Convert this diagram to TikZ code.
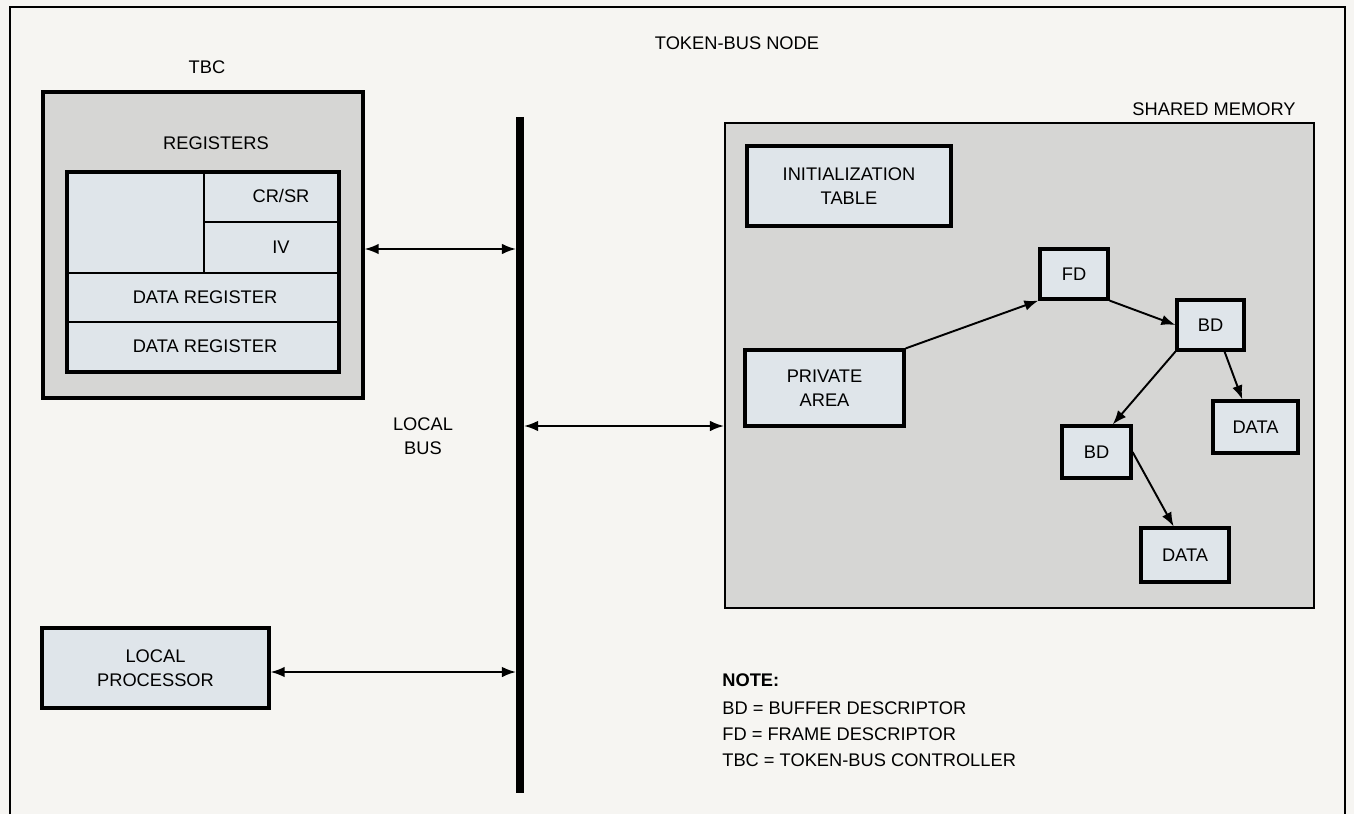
\documentclass[tikz,border=0pt]{standalone}
\usepackage{fontspec}
\setmainfont{Liberation Sans}
\usetikzlibrary{arrows.meta,calc}
\definecolor{bgpaper}{HTML}{F6F5F2}
\definecolor{graybox}{HTML}{D6D6D4}
\definecolor{bluebox}{HTML}{DFE5EA}
\begin{document}
\begin{tikzpicture}[x=0.02cm,y=-0.02cm,
  font=\fontsize{10.4}{13.7}\selectfont,
  inbox/.style={draw=black,line width=1.8pt,fill=bluebox,align=center,inner sep=0pt},
  cell/.style={draw=black,line width=1.1pt,fill=bluebox,inner sep=0pt},
  outbox/.style={draw=black,fill=graybox,inner sep=0pt},
  lbl/.style={inner sep=0pt,align=center},
  conn/.style={line width=1.1pt,-{Latex[length=8pt,width=6pt]}},
  dconn/.style={line width=1.1pt,{Latex[length=8pt,width=6pt]}-{Latex[length=8pt,width=6pt]}},
]
\fill[bgpaper] (0,0) rectangle (1354,814);
\useasboundingbox (0,0) rectangle (1354,814);
\draw[line width=0.8pt] (10,814) -- (10,7) -- (1345,7) -- (1345,814);

% titles
\node[lbl] (title) at (737,43) {TOKEN-BUS NODE};
\node[lbl] (tbclbl) at (207,67) {TBC};

% TBC block
\node[outbox,line width=1.8pt,minimum width=6.4cm,minimum height=6.12cm] (tbc) at (203,245) {};
\node[lbl] (reglbl) at (216,143) {REGISTERS};
\node[cell,minimum width=2.74cm,minimum height=2.02cm] (bigcell) at (135.5,222.5) {};
\node[cell,minimum width=2.7cm,minimum height=1.0cm] (crsr) at (271.5,197) {};
\node[cell,minimum width=2.7cm,minimum height=1.02cm] (iv) at (271.5,247.5) {};
\node[cell,minimum width=5.44cm,minimum height=0.98cm] (dr1) at (203,297.5) {};
\node[cell,minimum width=5.44cm,minimum height=1.0cm] (dr2) at (203,347) {};
\node[draw=black,line width=1.8pt,inner sep=0pt,minimum width=5.44cm,minimum height=4.0cm] (regs) at (203,272) {};
\node[lbl] (crsrt) at (281,196) {CR/SR};
\node[lbl] (ivt) at (281,247) {IV};
\node[lbl] (dr1t) at (205,297) {DATA REGISTER};
\node[lbl] (dr2t) at (205,346) {DATA REGISTER};

% local processor
\node[inbox,minimum width=4.54cm,minimum height=1.6cm] (proc) at (155.5,668) {LOCAL\\PROCESSOR};

% bus
\coordinate (bustop) at (520,117);
\coordinate (busbot) at (520,793);
\draw[line width=4.5pt] (bustop) -- (busbot);
\node[lbl] (buslbl) at (423,436) {LOCAL\\BUS};

% shared memory
\node[outbox,line width=1.2pt,minimum width=11.78cm,minimum height=9.7cm] (shm) at (1019.5,365.5) {};
\node[lbl] (shmlbl) at (1214,109) {SHARED MEMORY};
\node[inbox,minimum width=4.08cm,minimum height=1.6cm] (init) at (849,186) {INITIALIZATION\\TABLE};
\node[inbox,minimum width=3.18cm,minimum height=1.52cm] (priv) at (824.5,388) {PRIVATE\\AREA};
\node[inbox,minimum width=1.36cm,minimum height=1.0cm] (fd) at (1074,274) {FD};
\node[inbox,minimum width=1.34cm,minimum height=1.0cm] (bd1) at (1210.5,325) {BD};
\node[inbox,minimum width=1.7cm,minimum height=1.04cm] (data1) at (1255.5,427) {DATA};
\node[inbox,minimum width=1.38cm,minimum height=1.04cm] (bd2) at (1096.5,452) {BD};
\node[inbox,minimum width=1.76cm,minimum height=1.08cm] (data2) at (1185,555) {DATA};

% bus connections
\coordinate (busA) at (516,249);
\coordinate (busB) at (524,426);
\coordinate (busC) at (516,672);
\draw[dconn] (tbc.east |- busA) -- (busA);
\draw[dconn] (busB) -- (shm.west |- busB);
\draw[dconn] (proc.east |- busC) -- (busC);

% memory structure
\draw[conn] (priv.north east) -- (fd.south west);
\draw[conn] (fd.south east) -- (bd1.west);
\draw[conn] (bd1.south west) -- ($(bd2.north)!0.45!(bd2.north east)$);
\draw[conn] ($(bd1.south)!0.4!(bd1.south east)$) -- ($(data1.north)!0.3!(data1.north west)$);
\draw[conn] (bd2.east) -- ($(data2.north)!0.25!(data2.north west)$);

% note
\node[lbl,anchor=west,font=\fontsize{10.4}{13.7}\selectfont\bfseries] (note) at (722,680) {NOTE:};
\node[lbl,anchor=west] (n1) at (722,708) {BD = BUFFER DESCRIPTOR};
\node[lbl,anchor=west] (n2) at (722,734) {FD = FRAME DESCRIPTOR};
\node[lbl,anchor=west] (n3) at (722,760) {TBC = TOKEN-BUS CONTROLLER};
\end{tikzpicture}
\end{document}
